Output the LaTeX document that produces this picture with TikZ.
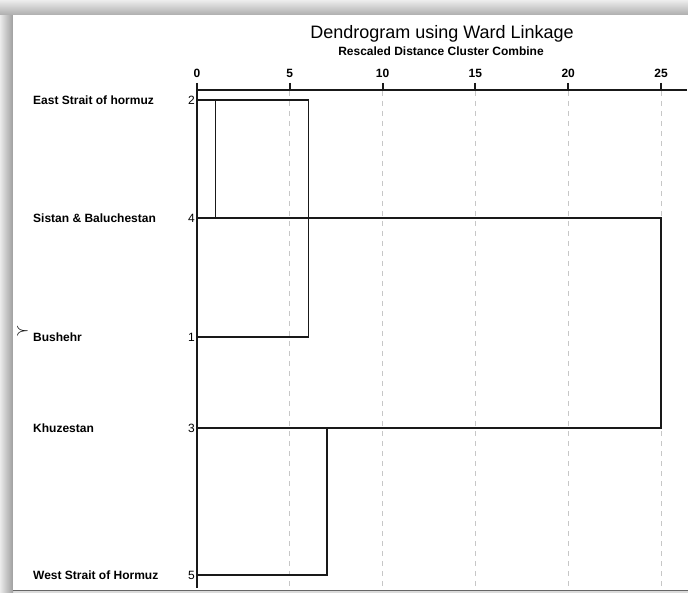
\documentclass[tikz,border=0pt]{standalone}
\usepackage{fontspec}
\setmainfont{Liberation Sans}
\usepackage{amssymb}

\newcommand{\distx}[1]{197+18.56*#1}

\begin{document}
\begin{tikzpicture}[x=1pt,y=-1pt,
    leaf/.style={anchor=west,inner sep=0pt,font=\fontsize{12}{14}\selectfont\bfseries},
    idx/.style={anchor=east,inner sep=0pt,font=\fontsize{12}{14}\selectfont},
    ticklabel/.style={inner sep=0pt,font=\fontsize{12}{14}\selectfont\bfseries},
    merge/.style={black!90,line width=1.2pt},
    gridline/.style={black!22,line width=0.8pt,dash pattern=on 5pt off 5pt}]
    \useasboundingbox (0,0) rectangle (688,593);
    % frame with shadow
    \fill[black!14] (0,0) rectangle (688,593);
    \shade[left color=black!8,right color=black!38] (0,15) rectangle (13,593);
    \shade[top color=black!7,bottom color=black!32] (0,0) rectangle (688,15);
    \fill[white] (13,15) rectangle (688,590);
    \draw[black!60,line width=1.2pt] (13,590.6) -- (688,590.6);
    % titles
    \node[font=\fontsize{18}{20}\selectfont] (title) at (442,34) {Dendrogram using Ward Linkage};
    \node[ticklabel] (subtitle) at (441,51) {Rescaled Distance Cluster Combine};
    % axis
    \coordinate (a0) at (197,90);
    \coordinate (aend) at (687,90);
    \coordinate (abot) at (197,588);
    \foreach \d in {5,10,...,25}
        \draw[gridline] ({\distx{\d}},91) -- ({\distx{\d}},590);
    \draw[merge] (a0) -- (aend);
    \draw[merge] (a0) -- (abot);
    \foreach \d in {0,5,...,25} {
        \draw[merge,line width=2pt] ({\distx{\d}},83) -- ({\distx{\d}},90);
        \node[ticklabel] (t\d) at ({\distx{\d}},73) {\d};
    }
    % leaves
    \foreach \n/\y/\name in {2/100/East Strait of hormuz,4/218/Sistan \& Baluchestan,
        1/337/Bushehr,3/428/Khuzestan,5/575/West Strait of Hormuz} {
        \node[leaf] (name\n) at (33,\y) {\name};
        \node[idx] (idx\n) at (195,\y) {\n};
        \coordinate (leaf\n) at (197,\y);
    }
    \node[font=\fontsize{16}{18}\selectfont,inner sep=0pt] (mark) at (22.5,331) {$\succ$};
    % merges
    \coordinate (m24) at ({\distx{1}},100);
    \coordinate (m241) at ({\distx{6}},100);
    \coordinate (m35) at ({\distx{7}},428);
    \coordinate (mall) at ({\distx{25}},218);
    \draw[merge] (leaf4) -| (m24);
    \draw[merge] (leaf2) -- (m241) |- (leaf1);
    \draw[merge] (leaf5) -| (m35);
    \draw[merge] (leaf4) -- (mall) |- (leaf3);
\end{tikzpicture}
\end{document}
